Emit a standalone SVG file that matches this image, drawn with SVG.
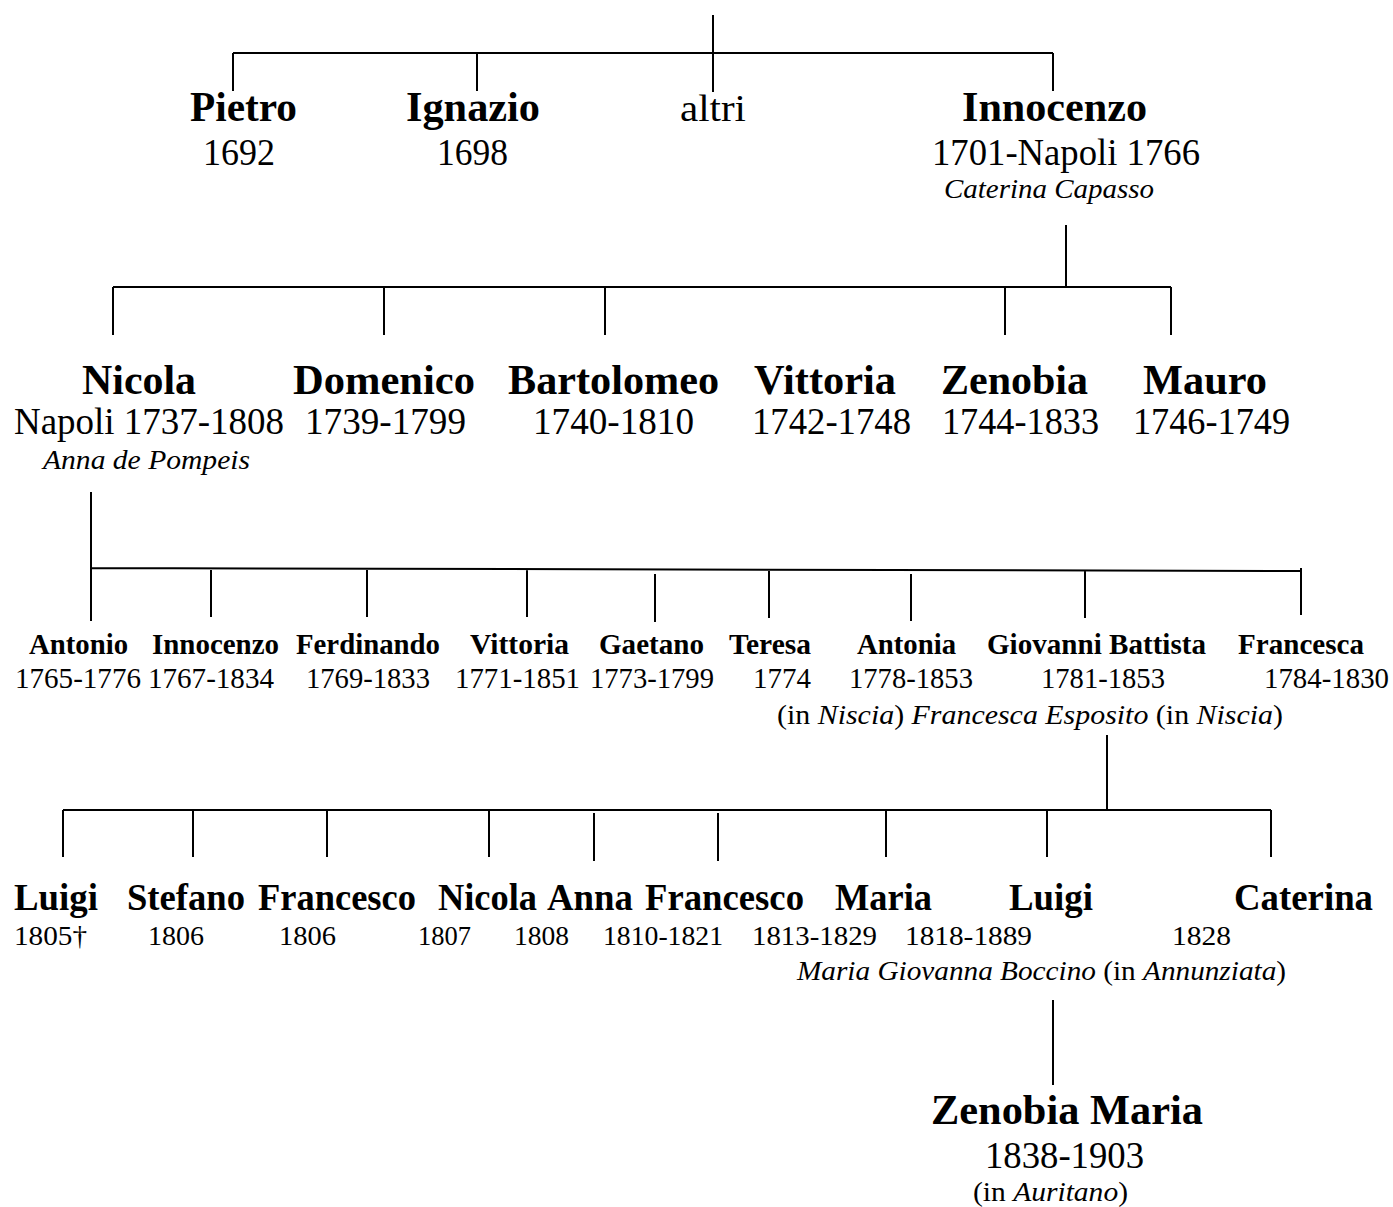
<svg xmlns="http://www.w3.org/2000/svg" width="1393" height="1207" viewBox="0 0 1393 1207" font-family="Liberation Serif">
<style>
text{font-family:"Liberation Serif","Times New Roman",serif;fill:#000}
.n1{font-size:42px;font-weight:bold}
.d1{font-size:37px}
.s1{font-size:28px;font-style:italic}
.n3{font-size:29px;font-weight:bold}
.d3{font-size:29px}
.n4{font-size:37px;font-weight:bold}
.d4{font-size:28px}
.sp{font-size:28px}
.it{font-style:italic}
.c{stroke:#000;stroke-width:2;fill:none}
</style>
<rect width="1393" height="1207" fill="#fff"/>
<g id="connectors" class="c">
<path d="M713 15V92M233 53H1053M233 53V91M477 53V91M1053 53V91"/>
<path d="M1066 225V287M113 287H1171M113 287V335M384 287V335M605 287V335M1005 287V335M1171 287V335"/>
<path d="M91 492V621M91 568L1301 571M211 570V617M367 570V617M527 570V617M655 574V622M769 570V618M911 574V621M1085 570V618M1301 568V615"/>
<path d="M1107 735V810M63 810H1271M63 810V857M193 810V857M327 810V857M489 810V857M594 813V861M718 813V861M886 810V857M1047 810V857M1271 810V857"/>
<path d="M1053 1000V1085"/>
</g>
<g id="pietro"><text class="n1" x="190" y="121" textLength="107" lengthAdjust="spacingAndGlyphs">Pietro</text><text class="d1" x="203" y="165" textLength="72" lengthAdjust="spacingAndGlyphs">1692</text></g>
<g id="ignazio"><text class="n1" x="406" y="121" textLength="134" lengthAdjust="spacingAndGlyphs">Ignazio</text><text class="d1" x="437" y="165" textLength="71" lengthAdjust="spacingAndGlyphs">1698</text></g>
<g id="altri"><text class="d1" x="680" y="121" textLength="66" lengthAdjust="spacingAndGlyphs">altri</text></g>
<g id="innocenzo"><text class="n1" x="962" y="121" textLength="185" lengthAdjust="spacingAndGlyphs">Innocenzo</text><text class="d1" x="932" y="165" textLength="268" lengthAdjust="spacingAndGlyphs">1701-Napoli 1766</text><text class="s1" x="944" y="198" textLength="210" lengthAdjust="spacingAndGlyphs">Caterina Capasso</text></g>

<g id="nicola"><text class="n1" x="82" y="394" textLength="114" lengthAdjust="spacingAndGlyphs">Nicola</text><text class="d1" x="14" y="434" textLength="270" lengthAdjust="spacingAndGlyphs">Napoli 1737-1808</text><text class="s1" x="43" y="469" textLength="207" lengthAdjust="spacingAndGlyphs">Anna de Pompeis</text></g>
<g id="domenico"><text class="n1" x="293" y="394" textLength="182" lengthAdjust="spacingAndGlyphs">Domenico</text><text class="d1" x="305" y="434" textLength="161" lengthAdjust="spacingAndGlyphs">1739-1799</text></g>
<g id="bartolomeo"><text class="n1" x="508" y="394" textLength="211" lengthAdjust="spacingAndGlyphs">Bartolomeo</text><text class="d1" x="533" y="434" textLength="161" lengthAdjust="spacingAndGlyphs">1740-1810</text></g>
<g id="vittoria1"><text class="n1" x="754" y="394" textLength="142" lengthAdjust="spacingAndGlyphs">Vittoria</text><text class="d1" x="752" y="434" textLength="159" lengthAdjust="spacingAndGlyphs">1742-1748</text></g>
<g id="zenobia"><text class="n1" x="941" y="394" textLength="147" lengthAdjust="spacingAndGlyphs">Zenobia</text><text class="d1" x="942" y="434" textLength="157" lengthAdjust="spacingAndGlyphs">1744-1833</text></g>
<g id="mauro"><text class="n1" x="1143" y="394" textLength="124" lengthAdjust="spacingAndGlyphs">Mauro</text><text class="d1" x="1133" y="434" textLength="157" lengthAdjust="spacingAndGlyphs">1746-1749</text></g>

<g id="antonio"><text class="n3" x="29" y="654" textLength="99" lengthAdjust="spacingAndGlyphs">Antonio</text><text class="d3" x="15" y="688" textLength="126" lengthAdjust="spacingAndGlyphs">1765-1776</text></g>
<g id="innocenzo2"><text class="n3" x="152" y="654" textLength="127" lengthAdjust="spacingAndGlyphs">Innocenzo</text><text class="d3" x="148" y="688" textLength="126" lengthAdjust="spacingAndGlyphs">1767-1834</text></g>
<g id="ferdinando"><text class="n3" x="296" y="654" textLength="144" lengthAdjust="spacingAndGlyphs">Ferdinando</text><text class="d3" x="306" y="688" textLength="124" lengthAdjust="spacingAndGlyphs">1769-1833</text></g>
<g id="vittoria2"><text class="n3" x="470" y="654" textLength="99" lengthAdjust="spacingAndGlyphs">Vittoria</text><text class="d3" x="455" y="688" textLength="125" lengthAdjust="spacingAndGlyphs">1771-1851</text></g>
<g id="gaetano"><text class="n3" x="599" y="654" textLength="105" lengthAdjust="spacingAndGlyphs">Gaetano</text><text class="d3" x="590" y="688" textLength="124" lengthAdjust="spacingAndGlyphs">1773-1799</text></g>
<g id="teresa"><text class="n3" x="729" y="654" textLength="82" lengthAdjust="spacingAndGlyphs">Teresa</text><text class="d3" x="753" y="688" textLength="58" lengthAdjust="spacingAndGlyphs">1774</text></g>
<g id="antonia"><text class="n3" x="857" y="654" textLength="99" lengthAdjust="spacingAndGlyphs">Antonia</text><text class="d3" x="849" y="688" textLength="124" lengthAdjust="spacingAndGlyphs">1778-1853</text></g>
<g id="giovanni-battista"><text class="n3" x="987" y="654" textLength="219" lengthAdjust="spacingAndGlyphs">Giovanni Battista</text><text class="d3" x="1041" y="688" textLength="124" lengthAdjust="spacingAndGlyphs">1781-1853</text><text class="sp" x="777" y="724" textLength="506" lengthAdjust="spacingAndGlyphs">(in <tspan class="it">Niscia</tspan>) <tspan class="it">Francesca Esposito</tspan>  (in <tspan class="it">Niscia</tspan>)</text></g>
<g id="francesca"><text class="n3" x="1238" y="654" textLength="126" lengthAdjust="spacingAndGlyphs">Francesca</text><text class="d3" x="1264" y="688" textLength="125" lengthAdjust="spacingAndGlyphs">1784-1830</text></g>

<g id="luigi1"><text class="n4" x="14" y="910" textLength="84" lengthAdjust="spacingAndGlyphs">Luigi</text><text class="d4" x="14" y="945" textLength="73" lengthAdjust="spacingAndGlyphs">1805†</text></g>
<g id="stefano"><text class="n4" x="127" y="910" textLength="118" lengthAdjust="spacingAndGlyphs">Stefano</text><text class="d4" x="148" y="945" textLength="56" lengthAdjust="spacingAndGlyphs">1806</text></g>
<g id="francesco1"><text class="n4" x="258" y="910" textLength="158" lengthAdjust="spacingAndGlyphs">Francesco</text><text class="d4" x="279" y="945" textLength="57" lengthAdjust="spacingAndGlyphs">1806</text></g>
<g id="nicola2"><text class="n4" x="438" y="910" textLength="99" lengthAdjust="spacingAndGlyphs">Nicola</text><text class="d4" x="418" y="945" textLength="53" lengthAdjust="spacingAndGlyphs">1807</text></g>
<g id="anna"><text class="n4" x="547" y="910" textLength="86" lengthAdjust="spacingAndGlyphs">Anna</text><text class="d4" x="514" y="945" textLength="55" lengthAdjust="spacingAndGlyphs">1808</text></g>
<g id="francesco2"><text class="n4" x="645" y="910" textLength="159" lengthAdjust="spacingAndGlyphs">Francesco</text><text class="d4" x="603" y="945" textLength="120" lengthAdjust="spacingAndGlyphs">1810-1821</text></g>
<g id="maria"><text class="n4" x="835" y="910" textLength="97" lengthAdjust="spacingAndGlyphs">Maria</text><text class="d4" x="752" y="945" textLength="125" lengthAdjust="spacingAndGlyphs">1813-1829</text></g>
<g id="luigi2"><text class="n4" x="1009" y="910" textLength="84" lengthAdjust="spacingAndGlyphs">Luigi</text><text class="d4" x="905" y="945" textLength="127" lengthAdjust="spacingAndGlyphs">1818-1889</text><text class="sp" x="797" y="980" textLength="489" lengthAdjust="spacingAndGlyphs"><tspan class="it">Maria Giovanna Boccino</tspan> (in <tspan class="it">Annunziata</tspan>)</text></g>
<g id="caterina"><text class="n4" x="1234" y="910" textLength="139" lengthAdjust="spacingAndGlyphs">Caterina</text><text class="d4" x="1172" y="945" textLength="59" lengthAdjust="spacingAndGlyphs">1828</text></g>

<g id="zenobia-maria"><text class="n1" x="931" y="1124" style="font-size:43px" textLength="272" lengthAdjust="spacingAndGlyphs">Zenobia Maria</text><text class="d1" x="985" y="1168" textLength="159" lengthAdjust="spacingAndGlyphs">1838-1903</text><text class="sp" x="973" y="1201" textLength="155" lengthAdjust="spacingAndGlyphs">(in <tspan class="it">Auritano</tspan>)</text></g>
</svg>
